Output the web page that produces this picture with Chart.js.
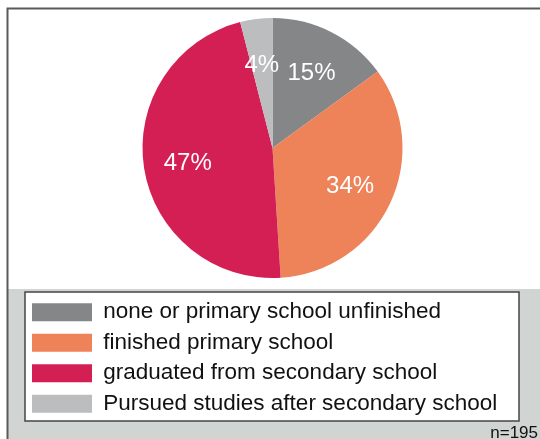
<!DOCTYPE html>
<html>
<head>
<meta charset="utf-8">
<script src="https://cdn.jsdelivr.net/npm/chart.js@4/dist/chart.umd.min.js"></script>
<style>
  html, body { margin: 0; padding: 0; background: #fff; }
  #wrap { width: 540px; height: 439px; }
</style>
</head>
<body>
<div id="wrap"><canvas id="chart" width="540" height="439"></canvas></div>
<script>
const categories = [
  'none or primary school unfinished',
  'finished primary school',
  'graduated from secondary school',
  'Pursued studies after secondary school'
];
const shares = [15, 34, 47, 4];
const colors = ['#858687', '#EE8259', '#D41F55', '#BCBDBF'];
const sampleNote = 'n=195';

const FONT = '"Liberation Sans", Arial, sans-serif';

// white top panel, grey bottom panel, frame and the legend box
const backdrop = {
  id: 'backdrop',
  beforeDraw(chart) {
    const ctx = chart.ctx;
    ctx.save();
    ctx.fillStyle = '#fff';
    ctx.fillRect(0, 0, chart.width, chart.height);
    ctx.fillStyle = '#D0D4D3';
    ctx.fillRect(8, 289, chart.width - 8, chart.height - 289);

    ctx.strokeStyle = '#5a5a5a';
    ctx.lineWidth = 2;
    ctx.beginPath();
    ctx.moveTo(chart.width, 8.5);
    ctx.lineTo(7.5, 8.5);
    ctx.lineTo(7.5, chart.height);
    ctx.stroke();

    const lg = chart.legend;
    const top = lg.top - 1;
    ctx.fillStyle = '#fff';
    ctx.fillRect(25, top, 494, 129);
    ctx.strokeStyle = '#444';
    ctx.lineWidth = 1.5;
    ctx.strokeRect(25, top, 494, 129);
    ctx.restore();
  },
  afterDraw(chart) {
    const ctx = chart.ctx;
    ctx.save();
    ctx.fillStyle = '#111';
    ctx.font = '17px ' + FONT;
    ctx.textAlign = 'right';
    ctx.textBaseline = 'alphabetic';
    ctx.fillText(sampleNote, 538, 438);
    ctx.restore();
  }
};

// percentage labels inside the slices
const sliceLabels = {
  id: 'sliceLabels',
  afterDatasetsDraw(chart) {
    const ctx = chart.ctx;
    const meta = chart.getDatasetMeta(0);
    ctx.save();
    ctx.fillStyle = '#fff';
    ctx.font = '24px ' + FONT;
    ctx.textAlign = 'center';
    ctx.textBaseline = 'middle';
    meta.data.forEach((arc, i) => {
      const p = arc.getProps(['x', 'y', 'startAngle', 'endAngle', 'outerRadius'], true);
      const mid = (p.startAngle + p.endAngle) / 2;
      const r = p.outerRadius * 0.66;
      ctx.fillText(shares[i] + '%', p.x + Math.cos(mid) * r, p.y + Math.sin(mid) * r + 2);
    });
    ctx.restore();
  }
};

new Chart(document.getElementById('chart'), {
  type: 'pie',
  data: {
    labels: categories,
    datasets: [{
      data: shares,
      backgroundColor: colors,
      borderWidth: 0,
      radius: 130
    }]
  },
  options: {
    responsive: false,
    animation: false,
    layout: { padding: { top: 3, left: 24, right: 19, bottom: 14 } },
    plugins: {
      tooltip: { enabled: false },
      legend: {
        position: 'bottom',
        align: 'start',
        labels: {
          boxWidth: 60,
          boxHeight: 18,
          padding: 8,
          color: '#111',
          font: { family: FONT, size: 22.5 }
        }
      }
    }
  },
  plugins: [backdrop, sliceLabels]
});
</script>
</body>
</html>
